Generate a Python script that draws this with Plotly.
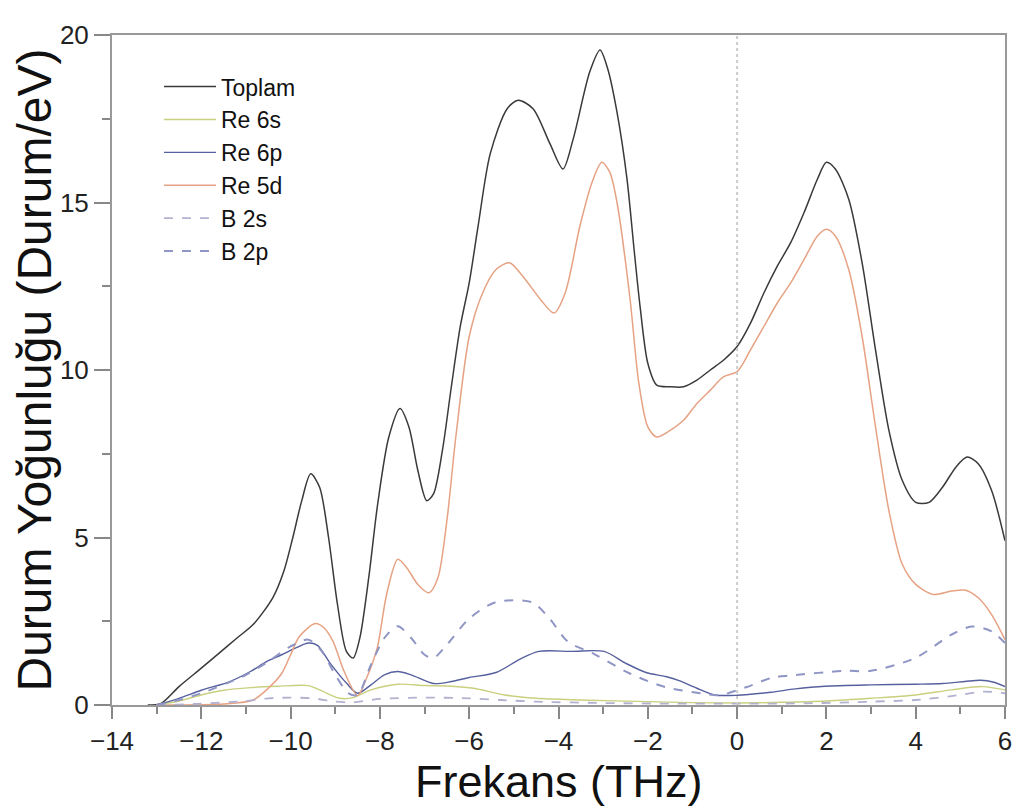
import plotly.graph_objects as go

# ---------------- data ----------------
toplam_x = [-13.2, -12.9, -12.5, -12.0, -11.6, -11.2, -10.84, -10.4, -10.15, -9.95, -9.75, -9.55, -9.35, -9.15,
            -8.95, -8.75, -8.6, -8.45, -8.25, -8.05, -7.8, -7.55, -7.35, -7.15, -6.95, -6.8, -6.6, -6.4, -6.2,
            -6.0, -5.8, -5.53, -5.15, -4.9, -4.57, -4.19, -3.9, -3.67, -3.3, -3.07, -2.9, -2.69, -2.47, -2.3,
            -2.17, -2.0, -1.8, -1.5, -1.2, -0.9, -0.6, -0.3, 0.0, 0.3, 0.6, 0.9, 1.2, 1.5, 1.8, 2.0, 2.2, 2.5,
            2.8, 3.1, 3.4, 3.7, 4.0, 4.3, 4.6, 4.9, 5.15, 5.4, 5.7, 6.0]
toplam_y = [0.0, 0.05, 0.55, 1.1, 1.55, 2.0, 2.4, 3.2, 4.0, 5.0, 6.1, 6.9, 6.5, 5.0,
            3.0, 1.6, 1.4, 2.0, 3.8, 6.0, 8.0, 8.85, 8.3, 7.0, 6.1, 6.3, 7.6, 9.5, 11.3,
            12.6, 14.3, 16.45, 17.8, 18.05, 17.8, 16.75, 16.0, 16.9, 18.9, 19.55, 19.0, 17.7, 15.75, 13.5,
            11.86, 10.2, 9.55, 9.5, 9.5, 9.7, 10.0, 10.3, 10.7, 11.4, 12.3, 13.1, 13.8, 14.7, 15.7, 16.2, 16.0, 15.1,
            13.2, 10.6, 8.2, 6.7, 6.05, 6.05, 6.5, 7.1, 7.4, 7.2, 6.4, 4.9]

re6s_x = [-13.0, -12.5, -12.0, -11.5, -10.9, -10.3, -9.6, -9.3, -8.9, -8.6, -8.2, -7.6, -7.0, -6.4, -5.9,
          -5.2, -4.5, -3.5, -2.0, -1.0, 0.0, 1.0, 2.0, 3.0, 4.0, 4.8, 5.5, 6.0]
re6s_y = [0.0, 0.12, 0.3, 0.44, 0.52, 0.56, 0.58, 0.42, 0.2, 0.22, 0.45, 0.62, 0.58, 0.56, 0.5,
          0.3, 0.2, 0.15, 0.1, 0.07, 0.06, 0.08, 0.12, 0.2, 0.3, 0.45, 0.55, 0.45]

re6p_x = [-13.0, -12.5, -12.0, -11.36, -10.9, -10.53, -10.2, -9.86, -9.6, -9.4, -9.1, -8.74, -8.5, -8.2,
          -7.9, -7.6, -7.3, -6.8, -6.4, -6.0, -5.4, -4.86, -4.44, -3.7, -2.98, -2.5, -2.04, -1.6, -1.3, -0.9,
          -0.5, 0.0, 0.76, 1.3, 1.97, 3.0, 4.0, 4.6, 5.1, 5.45, 5.75, 6.0]
re6p_y = [0.0, 0.2, 0.44, 0.7, 1.0, 1.3, 1.5, 1.72, 1.85, 1.78, 1.22, 0.64, 0.35, 0.6,
          0.9, 1.0, 0.9, 0.64, 0.7, 0.82, 0.97, 1.37, 1.6, 1.6, 1.6, 1.25, 0.97, 0.85, 0.73, 0.5,
          0.3, 0.29, 0.38, 0.48, 0.56, 0.6, 0.62, 0.64, 0.7, 0.74, 0.68, 0.55]

re5d_x = [-13.0, -11.5, -10.84, -10.5, -10.2, -10.0, -9.8, -9.45, -9.25, -9.05, -8.8, -8.5, -8.3, -8.06,
          -7.85, -7.6, -7.4, -7.15, -6.9, -6.7, -6.5, -6.3, -6.0, -5.7, -5.4, -5.1, -4.8, -4.4, -4.1, -3.85,
          -3.52, -3.25, -3.03, -2.85, -2.69, -2.4, -2.2, -2.0, -1.8, -1.5, -1.2, -0.9, -0.6, -0.3, 0.0, 0.3,
          0.6, 0.9, 1.2, 1.5, 1.8, 2.0, 2.2, 2.5, 2.8, 3.1, 3.4, 3.7, 4.0, 4.4, 4.8, 5.1, 5.4, 5.7, 6.0]
re5d_y = [0.0, 0.03, 0.15, 0.5, 0.94, 1.5, 2.05, 2.43, 2.3, 1.9, 1.0, 0.28, 0.8, 1.7,
          3.3, 4.35, 4.1, 3.6, 3.35, 3.8, 5.5, 8.0, 11.0, 12.3, 13.0, 13.2, 12.8, 12.1, 11.7, 12.3,
          14.3, 15.6, 16.2, 15.9, 15.0, 12.15, 9.6, 8.3, 8.0, 8.2, 8.5, 9.0, 9.4, 9.8, 9.95, 10.6,
          11.3, 12.0, 12.6, 13.3, 14.0, 14.2, 14.0, 13.0, 11.0, 8.3, 5.8, 4.2, 3.6, 3.3, 3.4, 3.43, 3.2, 2.7, 1.95]

b2s_x = [-13.0, -12.0, -11.0, -10.5, -10.0, -9.5, -9.0, -8.6, -8.0, -7.0, -6.0, -5.3, -4.5, -3.0, -1.5,
         0.0, 1.5, 3.0, 4.0, 5.0, 5.5, 6.0]
b2s_y = [0.0, 0.04, 0.12, 0.2, 0.22, 0.2, 0.1, 0.08, 0.18, 0.22, 0.2, 0.15, 0.1, 0.06, 0.04,
         0.04, 0.05, 0.1, 0.15, 0.3, 0.4, 0.35]

b2p_x = [-13.0, -12.5, -12.0, -11.0, -10.5, -10.0, -9.6, -9.3, -9.0, -8.7, -8.5, -8.2, -7.9, -7.6, -7.3,
         -7.0, -6.8, -6.5, -6.0, -5.4, -4.6, -4.2, -3.8, -3.2, -2.4, -1.6, -0.8, -0.4, 0.2, 0.8, 1.2, 2.4,
         3.0, 4.0, 4.8, 5.25, 5.7, 6.0]
b2p_y = [0.0, 0.15, 0.35, 0.9, 1.3, 1.75, 1.95, 1.6, 0.9, 0.35, 0.3, 1.2, 2.0, 2.35, 2.0,
         1.5, 1.4, 1.8, 2.58, 3.07, 3.07, 2.58, 1.9, 1.52, 0.94, 0.53, 0.35, 0.29, 0.53, 0.82, 0.88, 1.02,
         1.02, 1.41, 2.1, 2.34, 2.2, 1.85]

fermi_level = 0.0
x_ticks = [-14, -12, -10, -8, -6, -4, -2, 0, 2, 4, 6]
y_ticks = [0, 5, 10, 15, 20]
x_title = "Frekans (THz)"
y_title = "Durum Yoğunluğu (Durum/eV)"

series = [
    ("Toplam", toplam_x, toplam_y, "#3a3a3a", "solid", 1.5),
    ("Re 6s", re6s_x, re6s_y, "#c9d07e", "solid", 1.4),
    ("Re 6p", re6p_x, re6p_y, "#56609e", "solid", 1.4),
    ("Re 5d", re5d_x, re5d_y, "#e6a283", "solid", 1.5),
    ("B 2s", b2s_x, b2s_y, "#b2b2d0", "dash", 1.8),
    ("B 2p", b2p_x, b2p_y, "#8f95c4", "dash", 2.0),
]

fig = go.Figure()
for name, xs, ys, col, dash, w in series:
    fig.add_trace(go.Scatter(x=xs, y=ys, name=name, mode="lines",
                             line=dict(color=col, dash=dash, width=w, shape="spline", smoothing=0.8)))

fig.add_vline(x=fermi_level, line=dict(color="#cccccc", dash="dot", width=2))

font_family = "Liberation Sans, Arial, sans-serif"
axis_common = dict(showline=True, linecolor="#999999", linewidth=2, mirror=True, ticks="outside",
                   tickwidth=1.5, tickcolor="#888888", showgrid=False, zeroline=False,
                   ticklabeloverflow="allow",
                   tickfont=dict(family=font_family, size=26, color="#222222"))

fig.update_xaxes(range=[-14, 6], tickvals=x_ticks, ticklen=12,
                 minor=dict(dtick=1, ticks="outside", ticklen=7, tickcolor="#888888"),
                 **axis_common)
fig.update_yaxes(range=[0, 20], tickvals=y_ticks, ticklen=16,
                 title=dict(text=y_title, standoff=0,
                            font=dict(family=font_family, size=48, color="#111111")),
                 minor=dict(dtick=2.5, ticks="outside", ticklen=8, tickcolor="#888888"),
                 **axis_common)

# x-axis title placed as a centred text under the axis
fig.add_annotation(text=x_title, xref="paper", yref="paper", x=0.5, y=-0.1139,
                   xanchor="center", yanchor="middle", showarrow=False,
                   font=dict(family=font_family, size=45, color="#111111"))

fig.update_layout(
    width=1023, height=810,
    margin=dict(l=104, r=26, t=12, b=113),
    paper_bgcolor="white", plot_bgcolor="white",
    showlegend=True,
    legend=dict(x=0.0526, y=0.955, xanchor="left", yanchor="top", bgcolor="rgba(0,0,0,0)",
                font=dict(family=font_family, size=23, color="#111111"), itemwidth=52,
                tracegroupgap=0),
)

fig.write_html("out.html")
